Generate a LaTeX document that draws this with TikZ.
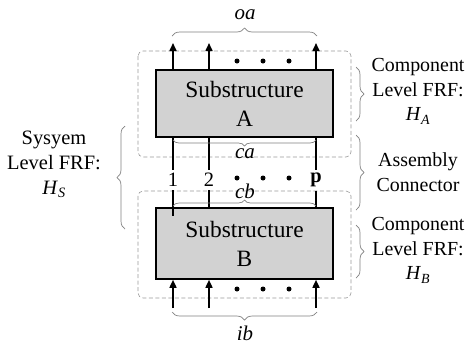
\documentclass[tikz,border=0pt]{standalone}
\usepackage{fontspec}
\setmainfont{Liberation Serif}
\usetikzlibrary{arrows.meta, decorations.pathreplacing, positioning, calc}

\newcommand{\frfsym}[1]{\textit{H}\textsubscript{\textit{#1}}}

\begin{document}
\begin{tikzpicture}[x=1bp, y=-1bp]
	\tikzset {subbox/.style={draw, line width=1.6bp, fill=gray!35, minimum width=177bp, align=center, font=\fontsize{23.5}{29}\selectfont},
		fence/.style={draw=gray!80, dash pattern=on 4bp off 2.5bp, rounded corners=5bp, line width=0.6bp},
		port/.style={line width=1.6bp, -{Triangle[width=7bp,length=8bp]}},
		link/.style={line width=1.6bp},
		grp/.style={draw=gray, line width=0.7bp, decorate, decoration={brace, amplitude=8bp}},
		dot/.style={circle, fill, inner sep=0pt, minimum size=5bp},
		lbl/.style={font=\fontsize{20.5}{25}\selectfont, align=center},
		rlbl/.style={font=\fontsize{20}{25}\selectfont, align=center, inner sep=1bp},
		sig/.style={font=\itshape\fontsize{21}{25}\selectfont, inner sep=1bp} }
	\useasboundingbox (0,0) rectangle (466,349);

	% dashed component fences
	\draw[fence] (138,51) rectangle (351,157);
	\draw[fence] (138,191) rectangle (351,298);

	\node[subbox, minimum height=67bp] (A) at (244.5,103.5) {Substructure\\A};
	\node[subbox, minimum height=71bp] (B) at (244.5,243.5) {Substructure\\B};

	% outputs of A and inputs of B
	\foreach \x/\n in {173/1, 209/2, 316/3} {
		\coordinate (oa\n) at (\x,43);
		\coordinate (ib\n) at (\x,308);
		\draw[port] (A.north -| oa\n) -- (oa\n);
		\draw[port] (ib\n) -- (ib\n |- B.south);
	}
	\foreach \x in {237, 263, 289} {
		\node[dot] (da\x) at (\x,61) {};
		\node[dot] (dc\x) at (\x,178) {};
		\node[dot] (db\x) at (\x,289) {};
	}

	% assembly connector
	\node[lbl] (c1) at (173,180) {1};
	\node[lbl] (c2) at (209,180) {2};
	\node[lbl] (cp) at (316,180) {\textbf{p}};
	\draw[link] (A.south -| c1) -- (c1.north);
	\draw[link] (A.south -| c2) -- (c2.north);
	\draw[link] (A.south -| cp) -- (cp.north);
	\draw[link] (c1.south) -- ($(B.north -| c1)+(0,9)$);
	\draw[link] (c2.south) -- ($(B.north -| c2)+(0,2)$);
	\draw[link] (cp.south) -- (B.north -| cp);

	% signal braces
	\draw[grp] (172,36) -- (317,36);
	\node[sig] (oa) at (245,15) {oa};
	\draw[grp, decoration={brace, amplitude=6bp}] (316,140) -- (173,140);
	\node[sig] (ca) at (245,154) {ca};
	\draw[grp, decoration={brace, amplitude=6bp}] (173,206) -- (316,206);
	\node[sig] (cb) at (245,191) {cb};
	\draw[grp] (317,312) -- (172,312);
	\node[sig] (ib) at (245,333) {ib};

	% FRF levels
	\draw[grp] (125,229) -- (125,126);
	\node[lbl] (hs) at (54,164) {Sysyem\\Level FRF:\\\frfsym{S}};
	\draw[grp] (356,67) -- (356,121);
	\node[rlbl] (ha) at (418,91) {Component\\Level FRF:\\\frfsym{A}};
	\draw[grp] (356,135) -- (356,210);
	\node[rlbl] (ac) at (418,172) {Assembly\\Connector};
	\draw[grp] (356,225) -- (356,278);
	\node[rlbl] (hb) at (418,250) {Component\\Level FRF:\\\frfsym{B}};
\end{tikzpicture}
\end{document}
